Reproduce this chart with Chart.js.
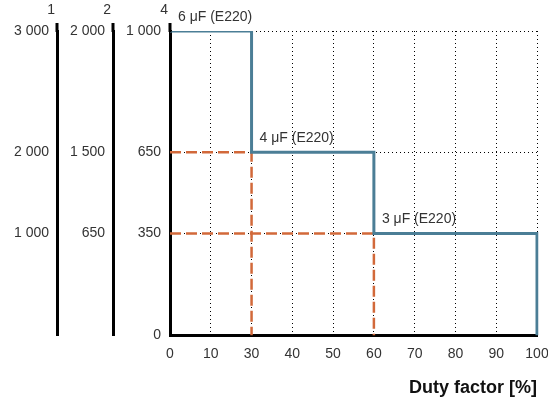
<!DOCTYPE html>
<html lang="en">
<head>
  <meta charset="UTF-8" />
  <title>Duty factor</title>
  <script src="https://cdn.jsdelivr.net/npm/chart.js"></script>
  <style>
    html, body { margin: 0; padding: 0; background: #fff; }
    #wrap { width: 548px; height: 403px; }
  </style>
</head>
<body>
  <div id="wrap"><canvas id="dutyChart"></canvas></div>

  <script>
    // data
    const xLabels = ['0', '10', '30', '40', '50', '60', '70', '80', '90', '100'];
    const yTicks = [0, 350, 650, 1000];
    const yLabels = ['0', '350', '650', '1 000'];
    const sideTicks = [350, 650, 1000];
    const axis1Labels = ['1 000', '2 000', '3 000'];
    const axis2Labels = ['650', '1 500', '2 000'];
    const axisNames = ['1', '2', '4'];
    const stepFrom = [0, 30, 60];
    const stepTo = [30, 60, 100];
    const stepLevel = [1000, 650, 350];
    const stepNames = ['6 μF (E220)', '4 μF (E220)', '3 μF (E220)'];

    // y axis is not linear in the original: piecewise scale
    const breakValues = [0, 350, 650, 1000];
    const breakFracs = [0, 0.335, 0.602, 1];

    function toFrac(v) {
      for (let i = 1; i < breakValues.length; i++) {
        if (v <= breakValues[i] || i === breakValues.length - 1) {
          const a = breakValues[i - 1], b = breakValues[i];
          return breakFracs[i - 1] + (v - a) / (b - a) * (breakFracs[i] - breakFracs[i - 1]);
        }
      }
      return 0;
    }

    class PiecewiseScale extends Chart.LinearScale {
      static id = 'piecewise';
      static defaults = Chart.LinearScale.defaults;
      getPixelForValue(value) {
        return this.getPixelForDecimal(toFrac(value));
      }
    }
    Chart.register(PiecewiseScale);

    // step line
    const stepPoints = [];
    stepLevel.forEach((lvl, i) => {
      stepPoints.push({ x: String(stepFrom[i]), y: lvl });
      stepPoints.push({ x: String(stepTo[i]), y: lvl });
    });
    stepPoints.push({ x: String(stepTo[stepTo.length - 1]), y: 0 });

    const blue = '#4b7e96';
    const orange = '#d2693a';
    const txt = '#333';
    const fontFam = "'Liberation Sans', Arial, sans-serif";

    const datasets = [{
      data: stepPoints,
      borderColor: blue,
      borderWidth: 3,
      pointRadius: 0,
      fill: false
    }];
    for (let i = 1; i < stepLevel.length; i++) {
      datasets.push({
        data: [
          { x: xLabels[0], y: stepLevel[i] },
          { x: String(stepFrom[i]), y: stepLevel[i] },
          { x: String(stepFrom[i]), y: 0 }
        ],
        borderColor: orange,
        borderWidth: 2.5,
        borderDash: [11, 5],
        pointRadius: 0,
        fill: false
      });
    }

    function sideAxis(labels, weight, w) {
      return {
        type: 'piecewise',
        position: 'left',
        weight: weight,
        min: 0,
        max: 1000,
        grid: { display: false, drawTicks: false },
        border: { display: true, width: 3, color: '#000' },
        ticks: {
          padding: 8,
          color: txt,
          font: { family: fontFam, size: 14 },
          callback: (v) => labels[sideTicks.indexOf(v)]
        },
        afterBuildTicks: (ax) => { ax.ticks = sideTicks.map(v => ({ value: v })); },
        afterFit: (ax) => { ax.width = w; }
      };
    }

    // labels on the steps, axis numbers, axis tops
    const extras = {
      id: 'extras',
      afterDatasetsDraw(chart) {
        const { ctx, scales: { x, y } } = chart;
        ctx.save();
        ctx.fillStyle = txt;
        ctx.font = '14px ' + fontFam;
        ctx.textAlign = 'left';
        ctx.textBaseline = 'middle';
        stepNames.forEach((name, i) => {
          ctx.fillText(name, x.getPixelForValue(String(stepFrom[i])) + 8, y.getPixelForValue(stepLevel[i]) - 14);
        });
        ctx.restore();
      },
      afterDraw(chart) {
        const { ctx, chartArea } = chart;
        ctx.save();
        ['y1', 'y2', 'y'].forEach((id, i) => {
          const s = chart.scales[id];
          const bx = Math.round(s.right);
          ctx.strokeStyle = '#000';
          ctx.lineWidth = 3;
          ctx.beginPath();
          ctx.moveTo(bx, chartArea.top + 1);
          ctx.lineTo(bx, chartArea.top - 8);
          ctx.stroke();
          ctx.fillStyle = txt;
          ctx.font = '14px ' + fontFam;
          ctx.textAlign = 'right';
          ctx.textBaseline = 'middle';
          ctx.fillText(axisNames[i], bx - 2, 10);
        });
        ctx.restore();
      }
    };

    new Chart(document.getElementById('dutyChart'), {
      type: 'line',
      data: { labels: xLabels, datasets: datasets },
      options: {
        responsive: true,
        maintainAspectRatio: false,
        animation: false,
        layout: { padding: { top: 31, right: 11, bottom: 4, left: 0 } },
        plugins: { legend: { display: false }, tooltip: { enabled: false } },
        scales: {
          x: {
            type: 'category',
            offset: false,
            grid: { color: '#000', lineWidth: 1, drawTicks: false },
            border: { display: true, width: 3, color: '#000', dash: [1, 3] },
            ticks: {
              padding: 10,
              color: txt,
              maxRotation: 0,
              autoSkip: false,
              font: { family: fontFam, size: 14 }
            },
            title: {
              display: true,
              text: 'Duty factor [%]',
              align: 'end',
              color: '#111',
              font: { family: fontFam, size: 18, weight: 'bold' },
              padding: { top: 5, bottom: 0 }
            },
            afterFit: (ax) => { ax.paddingRight = 0; ax.paddingLeft = 0; }
          },
          y: {
            type: 'piecewise',
            position: 'left',
            weight: 1,
            min: 0,
            max: 1000,
            grid: { color: '#000', lineWidth: 1, drawTicks: false },
            border: { display: true, width: 3, color: '#000', dash: [1, 3] },
            ticks: {
              padding: 9,
              color: txt,
              font: { family: fontFam, size: 14 },
              callback: (v) => yLabels[yTicks.indexOf(v)]
            },
            afterBuildTicks: (ax) => { ax.ticks = yTicks.map(v => ({ value: v })); },
            afterFit: (ax) => { ax.width = 57; }
          },
          y2: sideAxis(axis2Labels, 2, 56),
          y1: sideAxis(axis1Labels, 3, 57)
        }
      },
      plugins: [extras]
    });
  </script>
</body>
</html>
